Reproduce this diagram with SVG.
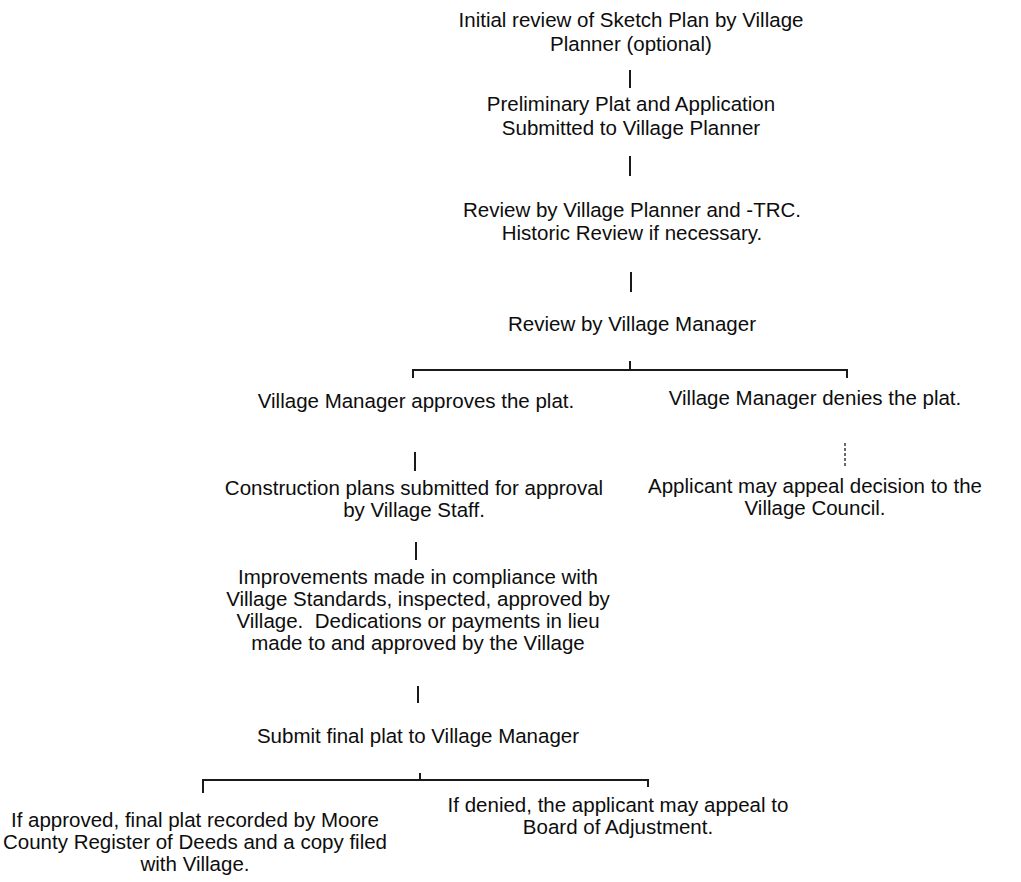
<svg xmlns="http://www.w3.org/2000/svg" width="1021" height="882" viewBox="0 0 1021 882">
  <style>
    .t { font-family: "Liberation Sans", Arial, sans-serif; font-size: 20.5px; fill: #0d0d0d; text-anchor: middle; }
    .c { stroke: #1a1a1a; stroke-width: 2; fill: none; }
    .faint { stroke: #444; stroke-width: 1.6; stroke-dasharray: 3 2; }
  </style>
  <rect width="1021" height="882" fill="#fff"/>

  <g id="connectors">
    <line class="c" x1="630" y1="70" x2="630" y2="88"/>
    <line class="c" x1="630" y1="156" x2="630" y2="176"/>
    <line class="c" x1="631" y1="272" x2="631" y2="292"/>
    <!-- first branch: approve / deny -->
    <path class="c" d="M630 361 V370 M413 378 V370 H847 V378"/>
    <line class="c" x1="415" y1="452" x2="415" y2="471"/>
    <line class="c faint" x1="845" y1="443" x2="845" y2="466"/>
    <line class="c" x1="416" y1="542" x2="416" y2="560"/>
    <line class="c" x1="418" y1="686" x2="418" y2="703"/>
    <!-- second branch: final plat outcome -->
    <path class="c" d="M420 773 V780 M203 793 V780 H648 V787"/>
  </g>

  <g id="sketch-review">
    <text class="t" x="631" y="27">Initial review of Sketch Plan by Village</text>
    <text class="t" x="631" y="51">Planner (optional)</text>
  </g>
  <g id="preliminary-plat">
    <text class="t" x="631" y="111">Preliminary Plat and Application</text>
    <text class="t" x="631" y="135">Submitted to Village Planner</text>
  </g>
  <g id="planner-review">
    <text class="t" x="632" y="217">Review by Village Planner and -TRC.</text>
    <text class="t" x="632" y="240">Historic Review if necessary.</text>
  </g>
  <g id="manager-review">
    <text class="t" x="632" y="331">Review by Village Manager</text>
  </g>
  <g id="manager-approves">
    <text class="t" x="416" y="408">Village Manager approves the plat.</text>
  </g>
  <g id="manager-denies">
    <text class="t" x="815" y="405">Village Manager denies the plat.</text>
  </g>
  <g id="construction-plans">
    <text class="t" x="414" y="495">Construction plans submitted for approval</text>
    <text class="t" x="414" y="517">by Village Staff.</text>
  </g>
  <g id="appeal-council">
    <text class="t" x="815" y="493">Applicant may appeal decision to the</text>
    <text class="t" x="815" y="515">Village Council.</text>
  </g>
  <g id="improvements">
    <text class="t" x="418" y="584">Improvements made in compliance with</text>
    <text class="t" x="418" y="606">Village Standards, inspected, approved by</text>
    <text class="t" x="418" y="628">Village.&#160; Dedications or payments in lieu</text>
    <text class="t" x="418" y="650">made to and approved by the Village</text>
  </g>
  <g id="final-plat">
    <text class="t" x="418" y="743">Submit final plat to Village Manager</text>
  </g>
  <g id="final-approved">
    <text class="t" x="195" y="827">If approved, final plat recorded by Moore</text>
    <text class="t" x="195" y="849">County Register of Deeds and a copy filed</text>
    <text class="t" x="195" y="871">with Village.</text>
  </g>
  <g id="final-denied">
    <text class="t" x="618" y="812">If denied, the applicant may appeal to</text>
    <text class="t" x="618" y="834">Board of Adjustment.</text>
  </g>
</svg>
